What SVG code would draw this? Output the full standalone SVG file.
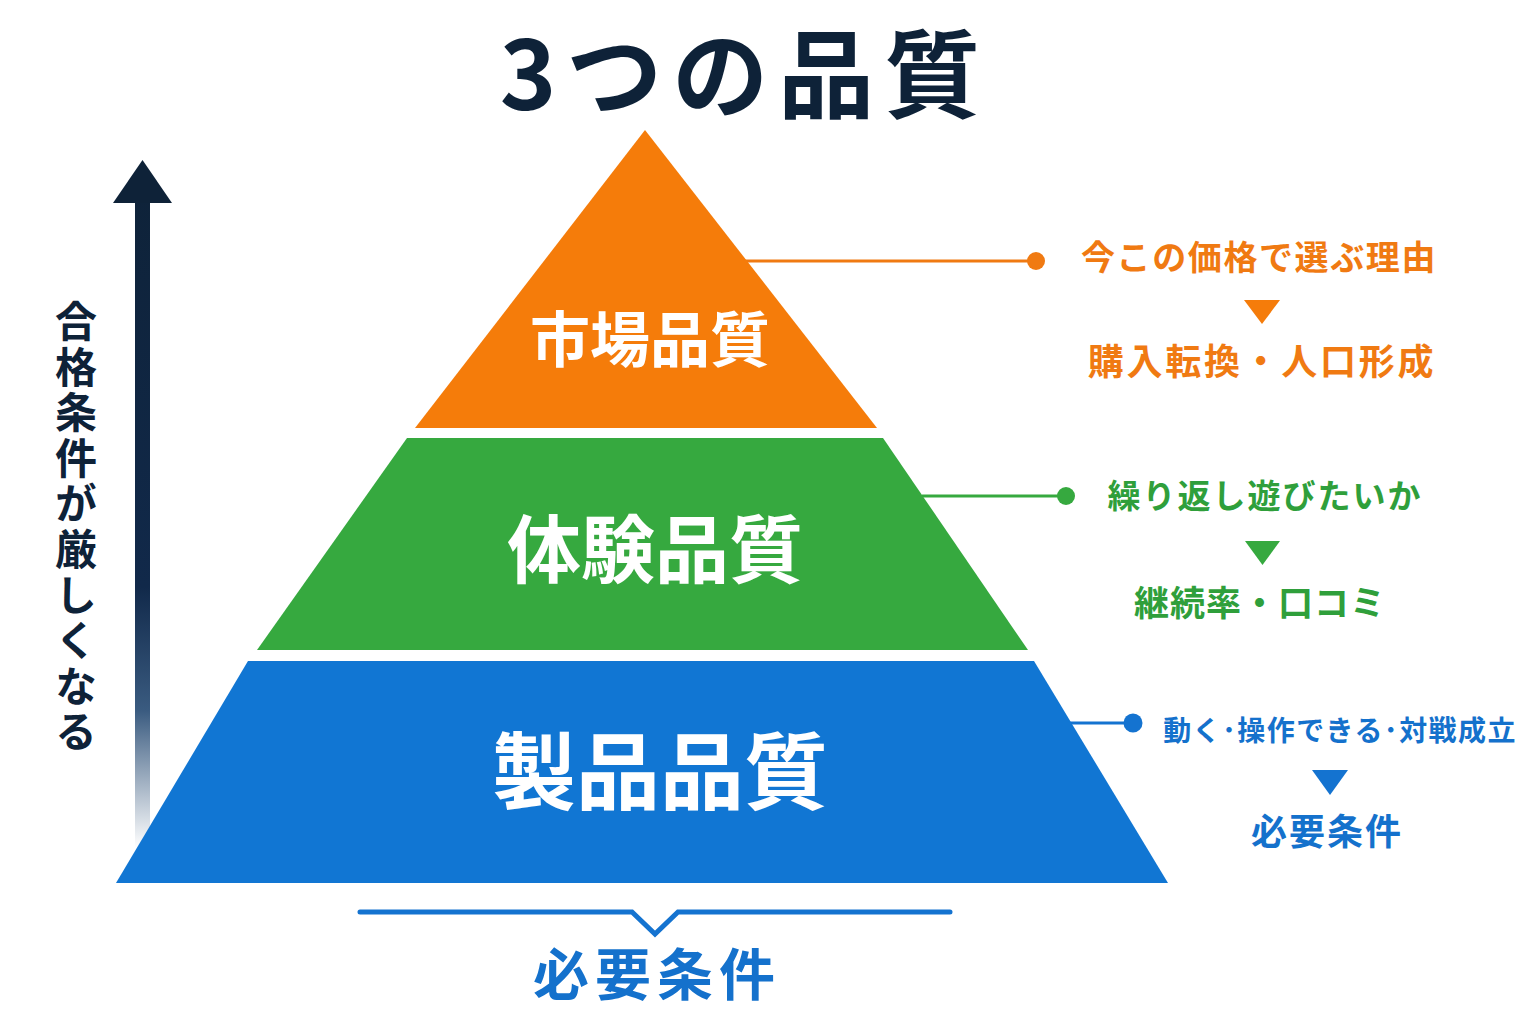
<svg xmlns="http://www.w3.org/2000/svg" width="1536" height="1024" viewBox="0 0 1536 1024">
<defs>
<linearGradient id="arrowGrad" x1="0" y1="160" x2="0" y2="848" gradientUnits="userSpaceOnUse">
<stop offset="0" stop-color="#0e2238"/>
<stop offset="0.62" stop-color="#11294a"/>
<stop offset="0.8" stop-color="#3a5b80"/>
<stop offset="1" stop-color="#ffffff"/>
</linearGradient>
</defs>
<style>
text{font-family:"Noto Sans CJK JP","Noto Sans CJK SC",sans-serif;font-weight:700}
.title{fill:#0e2238;font-size:96px}
.layer{fill:#ffffff;text-anchor:middle}
.o{fill:#f07a12}
.g{fill:#2f9f3b}
.b{fill:#1471cc}
.lbl{text-anchor:middle}
</style>
<rect x="0" y="0" width="1536" height="1024" fill="#ffffff"/>

<g id="title">
<text class="title" x="745" y="110" text-anchor="middle" letter-spacing="10">3つの品質</text>
</g>

<g id="axis">
<rect x="135" y="198" width="15" height="650" fill="url(#arrowGrad)"/>
<polygon points="142.5,160 113,203 172,203" fill="#0e2238"/>
<text x="76" y="300" font-size="42" fill="#0e2238" writing-mode="vertical-rl" letter-spacing="3.6">合格条件が厳しくなる</text>
</g>

<g id="connectors">
<line x1="745" y1="261" x2="1036" y2="261" stroke="#f07a12" stroke-width="3"/>
<circle cx="1036" cy="261" r="9" fill="#f07a12"/>
<line x1="922" y1="496" x2="1066" y2="496" stroke="#36a93f" stroke-width="3"/>
<circle cx="1066" cy="496" r="9" fill="#36a93f"/>
<line x1="1068" y1="723" x2="1133" y2="723" stroke="#1473d0" stroke-width="3"/>
<circle cx="1133" cy="723" r="9.5" fill="#1473d0"/>
</g>

<g id="market">
<polygon points="645,130 877,428 415,428" fill="#f57c0a"/>
<text class="layer" x="650" y="362" font-size="60">市場品質</text>
</g>

<g id="experience">
<polygon points="407,438 883,438 1028,650 257,650" fill="#36a93f"/>
<text class="layer" x="655" y="577" font-size="74">体験品質</text>
</g>

<g id="product">
<polygon points="248,661 1034,661 1168,883 116,883" fill="#1176d3"/>
<text class="layer" x="660" y="803" font-size="84">製品品質</text>
</g>

<g id="market-note">
<text class="o lbl" x="1259" y="270" font-size="34" letter-spacing="1.6">今この価格で選ぶ理由</text>
<polygon points="1244,300 1280,300 1262,324" fill="#f57c0a"/>
<text class="o lbl" x="1262" y="375" font-size="36" letter-spacing="2.7">購入転換・人口形成</text>
</g>

<g id="experience-note">
<text class="g lbl" x="1265" y="508" font-size="33" letter-spacing="2">繰り返し遊びたいか</text>
<polygon points="1245,541 1280,541 1262.5,565" fill="#36a93f"/>
<text class="g lbl" x="1260" y="616" font-size="35" letter-spacing="1">継続率・口コミ</text>
</g>

<g id="product-note">
<text class="b lbl" x="1340" y="741" font-size="28" letter-spacing="1.4">動く･操作できる･対戦成立</text>
<polygon points="1312,770 1348,770 1330,795" fill="#1473d0"/>
<text class="b lbl" x="1327" y="845" font-size="36" letter-spacing="2">必要条件</text>
</g>

<g id="bottom-brace">
<polyline points="360,912 632,912 655,934 678,912 950,912" fill="none" stroke="#1473d0" stroke-width="5" stroke-linecap="round" stroke-linejoin="miter"/>
<text class="b" x="657" y="995" font-size="56" text-anchor="middle" letter-spacing="6">必要条件</text>
</g>
</svg>
